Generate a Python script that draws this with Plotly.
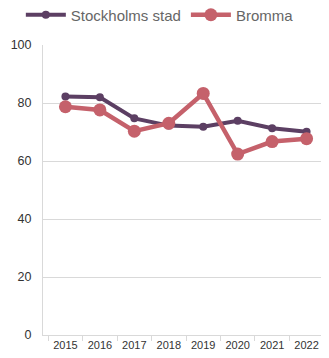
import plotly.graph_objects as go

years = ["2015", "2016", "2017", "2018", "2019", "2020", "2021", "2022"]
stockholm = [82.2, 82.0, 74.7, 72.2, 71.8, 73.9, 71.3, 70.1]
bromma = [78.7, 77.6, 70.3, 73.0, 83.3, 62.4, 66.7, 67.7]

fig = go.Figure()
fig.add_trace(go.Scatter(x=years, y=stockholm, name="Stockholms stad", mode="lines+markers",
                         line=dict(color="#5c3f63", width=4), marker=dict(size=8, color="#5c3f63")))
fig.add_trace(go.Scatter(x=years, y=bromma, name="Bromma", mode="lines+markers",
                         line=dict(color="#c5616b", width=4.5), marker=dict(size=13, color="#c5616b")))

# page body has an 8px margin, so the figure is sized to fit the window
fig.update_layout(
    width=321, height=350,
    margin=dict(l=35, r=0, t=37, b=23),
    plot_bgcolor="white", paper_bgcolor="white",
    font=dict(family="Liberation Sans, Arial, sans-serif", color="#333333", size=12),
    legend=dict(orientation="h", x=0.04, xanchor="left", xref="container",
                y=0.98, yanchor="middle", yref="container", itemwidth=40,
                font=dict(size=15, color="#666666"), traceorder="normal", itemsizing="trace"),
    showlegend=True,
)
fig.update_xaxes(type="category", showgrid=False, showline=True, linecolor="#d9d9d9", linewidth=1,
                 ticks="outside", tickcolor="#d9d9d9", ticklen=5, tickson="boundaries",
                 tickangle=0, automargin=False,
                 tickfont=dict(size=11, color="#333333"))
fig.update_yaxes(range=[0, 100], dtick=20, showgrid=True, gridcolor="#d9d9d9", gridwidth=1,
                 showline=True, linecolor="#d9d9d9", zeroline=False, ticks="", automargin=False,
                 ticklabelstandoff=8, tickfont=dict(size=12.5, color="#333333"))

fig.write_html("out.html")
